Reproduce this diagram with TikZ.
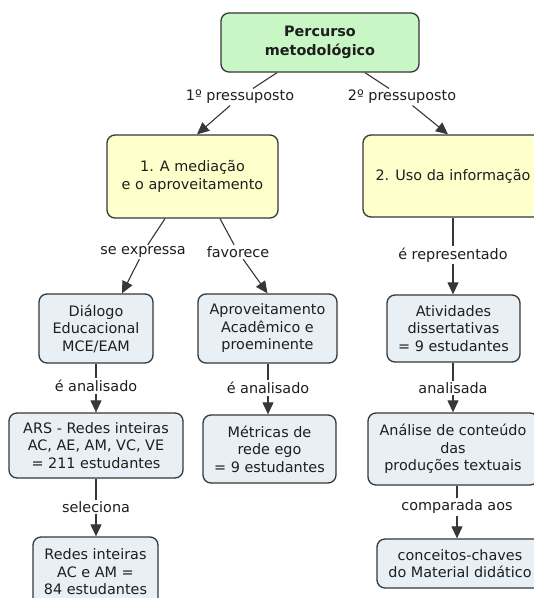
\documentclass[tikz,border=0pt]{standalone}
\usepackage{fontspec}
\setmainfont{DejaVu Sans}
\usetikzlibrary{arrows.meta}
\definecolor{edge}{RGB}{55,55,55}
\definecolor{rootfill}{RGB}{200,246,196}
\definecolor{mainfill}{RGB}{255,255,204}
\definecolor{leaffill}{RGB}{232,240,245}
\definecolor{ink}{RGB}{30,30,30}
\begin{document}
\begin{tikzpicture}[x=1pt,y=-1pt,
  font=\fontsize{14.4}{17.5}\selectfont,
  concept/.style={draw=edge, line width=1.3pt, rounded corners=8pt,
    align=center, inner sep=0pt, text=ink},
  rootbox/.style={concept, fill=rootfill,
    font=\fontsize{14.4}{19}\selectfont\bfseries},
  mainbox/.style={concept, fill=mainfill},
  leafbox/.style={concept, fill=leaffill},
  linkword/.style={fill=white, inner sep=1.5pt, text=ink},
  link/.style={draw=edge, line width=1.1pt},
  arrowlink/.style={link, -{Triangle[length=12pt,width=11pt]}},
]
\useasboundingbox (0,0) rectangle (534,598);
\clip (0,0) rectangle (534,598);
\fill[white] (0,0) rectangle (534,598);

% concepts
\node[rootbox, minimum width=198pt, minimum height=59pt] (root) at (320,42.5)
  {Percurso\\metodológico};
\node[mainbox, minimum width=171pt, minimum height=83pt] (med) at (192.5,176.5)
  {1. A mediação\\e o aproveitamento};
\node[mainbox, minimum width=180pt, minimum height=82pt] (uso) at (453,176)
  {2. Uso da informação};
\node[leafbox, minimum width=114pt, minimum height=69pt] (dial) at (96,328.5)
  {Diálogo\\Educacional\\MCE/EAM};
\node[leafbox, minimum width=139pt, minimum height=69pt] (aprov) at (267.5,328.5)
  {Aproveitamento\\Acadêmico e\\proeminente};
\node[leafbox, minimum width=133pt, minimum height=67pt] (ativ) at (453.5,328.5)
  {Atividades\\dissertativas\\= 9 estudantes};
\node[leafbox, minimum width=174pt, minimum height=65pt] (ars) at (96,445.5)
  {ARS - Redes inteiras\\AC, AE, AM, VC, VE\\= 211 estudantes};
\node[leafbox, minimum width=133pt, minimum height=68pt] (metr) at (269.5,449)
  {Métricas de\\rede ego\\= 9 estudantes};
\node[leafbox, minimum width=170pt, minimum height=72pt] (anal) at (453,449)
  {Análise de conteúdo\\das\\produções textuais};
\node[leafbox, minimum width=125pt, minimum height=70pt] (redes) at (95.5,572)
  {Redes inteiras\\AC e AM =\\84 estudantes};
\node[leafbox, minimum width=166pt, minimum height=49pt] (conc) at (460,563.5)
  {conceitos-chaves\\do Material didático};

% linking words
\node[linkword] (p1) at (240,97) {1º pressuposto};
\node[linkword] (p2) at (402,97) {2º pressuposto};
\node[linkword] (expr) at (143,252) {se expressa};
\node[linkword] (fav) at (238,252) {favorece};
\node[linkword] (repr) at (453,255) {é representado};
\node[linkword] (an1) at (96,386) {é analisado};
\node[linkword] (an2) at (268,388) {é analisado};
\node[linkword] (an3) at (453,388) {analisada};
\node[linkword] (sel) at (96,507) {seleciona};
\node[linkword] (comp) at (457,507) {comparada aos};

% connectors
\draw[link] ([xshift=-43pt]root.south) -- (p1);
\draw[arrowlink] (p1) -- ([xshift=4.5pt]med.north);
\draw[link] ([xshift=45pt]root.south) -- (p2);
\draw[arrowlink] (p2) -- ([xshift=-5pt]uso.north);

\draw[link] ([xshift=-27.5pt]med.south) -- (expr);
\draw[arrowlink] (expr) -- ([xshift=26pt]dial.north);
\draw[link] ([xshift=27.5pt]med.south) -- (fav);
\draw[arrowlink] (fav) -- (aprov.north);

\draw[link] (uso.south -| repr) -- (repr);
\draw[arrowlink] (repr) -- (repr |- ativ.north);

\draw[link] (dial.south -| an1) -- (an1);
\draw[arrowlink] (an1) -- (an1 |- ars.north);
\draw[link] (aprov.south -| an2) -- (an2);
\draw[arrowlink] (an2) -- (an2 |- metr.north);
\draw[link] (ativ.south -| an3) -- (an3);
\draw[arrowlink] (an3) -- (an3 |- anal.north);

\draw[link] (ars.south -| sel) -- (sel);
\draw[arrowlink] (sel) -- (sel |- redes.north);
\draw[link] (anal.south -| comp) -- (comp);
\draw[arrowlink] (comp) -- (comp |- conc.north);
\end{tikzpicture}
\end{document}
